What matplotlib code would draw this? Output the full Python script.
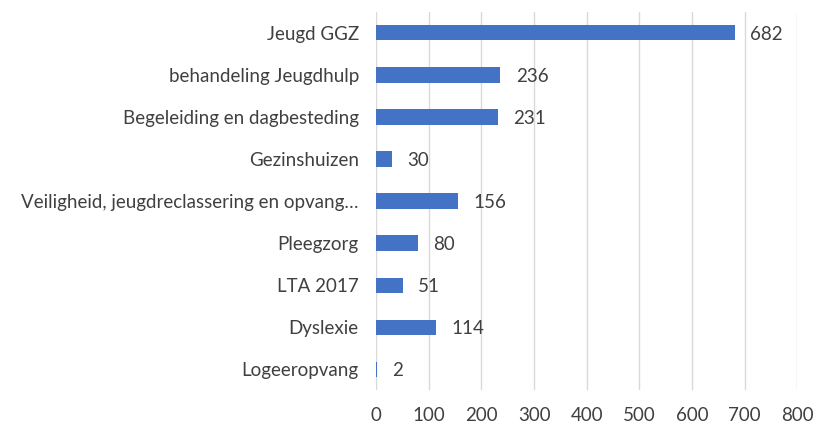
import matplotlib.pyplot as plt

categories = ['Jeugd GGZ', 'behandeling Jeugdhulp', 'Begeleiding en dagbesteding',
              'Gezinshuizen', 'Veiligheid, jeugdreclassering en opvang…', 'Pleegzorg',
              'LTA 2017', 'Dyslexie', 'Logeeropvang']
values = [682, 236, 231, 30, 156, 80, 51, 114, 2]
xticks = [0, 100, 200, 300, 400, 500, 600, 700, 800]

plt.rcParams['font.family'] = ['Lato', 'DejaVu Sans']
text_color = '#404040'
fs = 13.5

fig = plt.figure(figsize=(8.16, 4.25), dpi=100)
ax = fig.add_axes([0.461, 0.082, 0.516, 0.89])

pos = list(range(len(categories)))
ax.barh(pos, values, height=0.36, color='#4472C4', zorder=3)
for p, v in zip(pos, values):
    ax.annotate(str(v), (v, p), xytext=(11, -1), textcoords='offset points',
                va='center', ha='left', fontsize=fs, color=text_color)

ax.set_xlim(0, 800)
ax.set_ylim(len(categories) - 0.5, -0.5)
ax.set_xticks(xticks)
ax.set_yticks(pos)
ax.set_yticklabels(categories)
ax.grid(axis='x', color='#d9d9d9', linewidth=1, zorder=0)
for s in ax.spines.values():
    s.set_visible(False)
ax.tick_params(axis='both', length=0, labelsize=fs, colors=text_color)
ax.tick_params(axis='x', pad=12)
ax.tick_params(axis='y', pad=12.5)

fig.savefig('out.png', dpi=100)
